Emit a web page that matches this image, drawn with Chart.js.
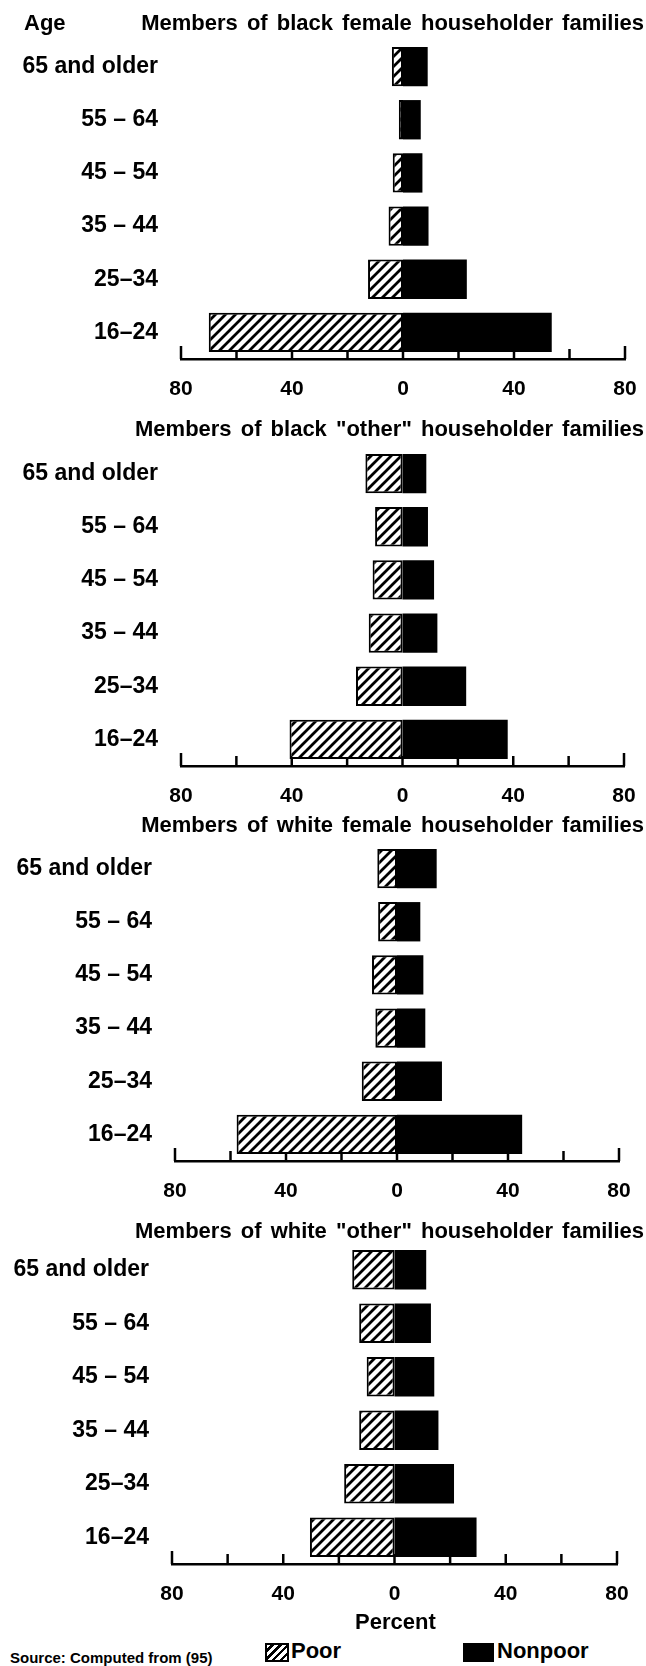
<!DOCTYPE html>
<html>
<head>
<meta charset="utf-8">
<script src="https://cdn.jsdelivr.net/npm/chart.js@4.4.1/dist/chart.umd.min.js"></script>
<style>
    body { margin: 0; background: #fff; }
    #page { position: relative; width: 646px; height: 1666px; overflow: hidden; font-family: "Liberation Sans", Arial, sans-serif; font-weight: bold; color: #000; }
    #page canvas { position: absolute; left: 0; }
    .title { position: absolute; right: 2px; font-size: 22px; word-spacing: 3px; line-height: 26px; white-space: nowrap; z-index: 2; }
    .txt { position: absolute; white-space: nowrap; z-index: 2; }
    .swatch { position: absolute; height: 19px; box-sizing: border-box; border: 2px solid #000; }
</style>
</head>
<body>
<div id="page">
    <canvas id="c1" width="646" height="380" style="top:30px"></canvas>
    <canvas id="c2" width="646" height="380" style="top:437px"></canvas>
    <canvas id="c3" width="646" height="380" style="top:832px"></canvas>
    <canvas id="c4" width="646" height="382" style="top:1233px"></canvas>

    <div class="txt" style="left:24px; top:10px; font-size:22px; line-height:26px;">Age</div>
    <div class="title" style="top:10px;">Members of black female householder families</div>
    <div class="title" style="top:416px;">Members of black "other" householder families</div>
    <div class="title" style="top:812px;">Members of white female householder families</div>
    <div class="title" style="top:1218px;">Members of white "other" householder families</div>

    <div class="txt" style="left:355px; top:1609px; font-size:22px; line-height:26px;">Percent</div>
    <div class="swatch" id="poorSwatch" style="left:265px; top:1643px; width:24px;"></div>
    <div class="txt" style="left:291px; top:1638px; font-size:22px; line-height:26px;">Poor</div>
    <div class="swatch" style="left:463px; top:1643px; width:31px; background:#000;"></div>
    <div class="txt" style="left:497px; top:1638px; font-size:22px; line-height:26px;">Nonpoor</div>
    <div class="txt" style="left:10px; top:1649px; font-size:15px; line-height:18px;">Source: Computed from (95)</div>
</div>

<script>
// Categorias (de cima para baixo) e marcas do eixo
const ageGroups = ["65 and older", "55 – 64", "45 – 54", "35 – 44", "25–34", "16–24"];
const tickValues = [-80, -60, -40, -20, 0, 20, 40, 60, 80];

// Valores em percentual
const blackFemalePoor = [4.0, 1.5, 3.7, 5.2, 12.6, 70.0];
const blackFemaleNonpoor = [8.9, 6.4, 7.0, 9.2, 23.0, 53.6];

const blackOtherPoor = [13.4, 9.9, 10.8, 12.2, 16.8, 40.8];
const blackOtherNonpoor = [8.6, 9.2, 11.4, 12.6, 23.0, 38.0];

const whiteFemalePoor = [7.1, 6.8, 9.0, 7.8, 12.7, 57.8];
const whiteFemaleNonpoor = [14.3, 8.4, 9.5, 10.2, 16.2, 45.1];

const whiteOtherPoor = [15.2, 12.7, 10.0, 12.7, 18.1, 30.4];
const whiteOtherNonpoor = [11.4, 13.1, 14.3, 15.8, 21.4, 29.5];

const FONT = "'Liberation Sans', Arial, sans-serif";

// Padrão hachurado "/" para a barra dos pobres
function hatch(ctx) {
    const c = document.createElement('canvas');
    c.width = c.height = 10;
    const g = c.getContext('2d');
    g.fillStyle = '#fff';
    g.fillRect(0, 0, 10, 10);
    g.strokeStyle = '#000';
    g.lineWidth = 2.8;
    g.beginPath();
    g.moveTo(-3, 13); g.lineTo(13, -3);
    g.moveTo(-6, 6); g.lineTo(6, -6);
    g.moveTo(4, 16); g.lineTo(16, 4);
    g.stroke();
    return ctx.createPattern(c, 'repeat');
}

// Marcas do eixo x apontando para cima
const upTicks = {
    id: 'upTicks',
    beforeDatasetsDraw(chart) {
        const x = chart.scales.x;
        const ctx = chart.ctx;
        const y0 = chart.chartArea.bottom;
        ctx.save();
        ctx.strokeStyle = '#000';
        ctx.lineWidth = 2.5;
        tickValues.forEach(v => {
            const px = x.getPixelForValue(v);
            const h = Math.abs(v) === 80 ? 13 : 10;
            ctx.beginPath();
            ctx.moveTo(px, y0);
            ctx.lineTo(px, y0 - h);
            ctx.stroke();
        });
        ctx.restore();
    }
};

function makePanel(id, poor, nonpoor, left, right) {
    const canvas = document.getElementById(id);
    const ctx = canvas.getContext('2d');
    return new Chart(ctx, {
        type: 'bar',
        data: {
            labels: ageGroups,
            datasets: [{
                label: 'Poor',
                data: poor.map(v => -v),
                backgroundColor: hatch(ctx),
                borderColor: '#000',
                borderWidth: 2,
                borderSkipped: false
            }, {
                label: 'Nonpoor',
                data: nonpoor,
                backgroundColor: '#000',
                borderWidth: 0
            }]
        },
        options: {
            indexAxis: 'y',
            responsive: false,
            animation: false,
            devicePixelRatio: 1,
            layout: { padding: { top: 10, left: 0, right: 646 - right, bottom: 0 } },
            plugins: { legend: { display: false }, tooltip: { enabled: false } },
            datasets: { bar: { categoryPercentage: 1, barPercentage: 0.74 } },
            scales: {
                x: {
                    stacked: true,
                    min: -80,
                    max: 80,
                    afterBuildTicks: s => { s.ticks = tickValues.map(v => ({ value: v })); },
                    afterFit: s => { s.height = 51; s.paddingLeft = 0; s.paddingRight = 0; },
                    grid: { display: false, drawTicks: false },
                    border: { display: true, color: '#000', width: 2.5 },
                    ticks: {
                        autoSkip: false,
                        maxRotation: 0,
                        minRotation: 0,
                        padding: 18,
                        color: '#000',
                        font: { family: FONT, size: 21, weight: 'bold' },
                        callback: v => (v % 40 === 0 ? String(Math.abs(v)) : '')
                    }
                },
                y: {
                    stacked: true,
                    afterFit: s => { s.width = left; s.paddingTop = 0; s.paddingBottom = 0; },
                    grid: { display: false, drawTicks: false },
                    border: { display: false },
                    ticks: {
                        padding: 23,
                        color: '#000',
                        font: { family: FONT, size: 23, weight: 'bold' }
                    }
                }
            }
        },
        plugins: [upTicks]
    });
}

makePanel('c1', blackFemalePoor, blackFemaleNonpoor, 181, 625);
makePanel('c2', blackOtherPoor, blackOtherNonpoor, 181, 624);
makePanel('c3', whiteFemalePoor, whiteFemaleNonpoor, 175, 619);
makePanel('c4', whiteOtherPoor, whiteOtherNonpoor, 172, 617);

// Amostra hachurada da legenda
document.getElementById('poorSwatch').style.background =
    'repeating-linear-gradient(-45deg, #fff 0 3px, #000 3px 5.5px)';
</script>
</body>
</html>
